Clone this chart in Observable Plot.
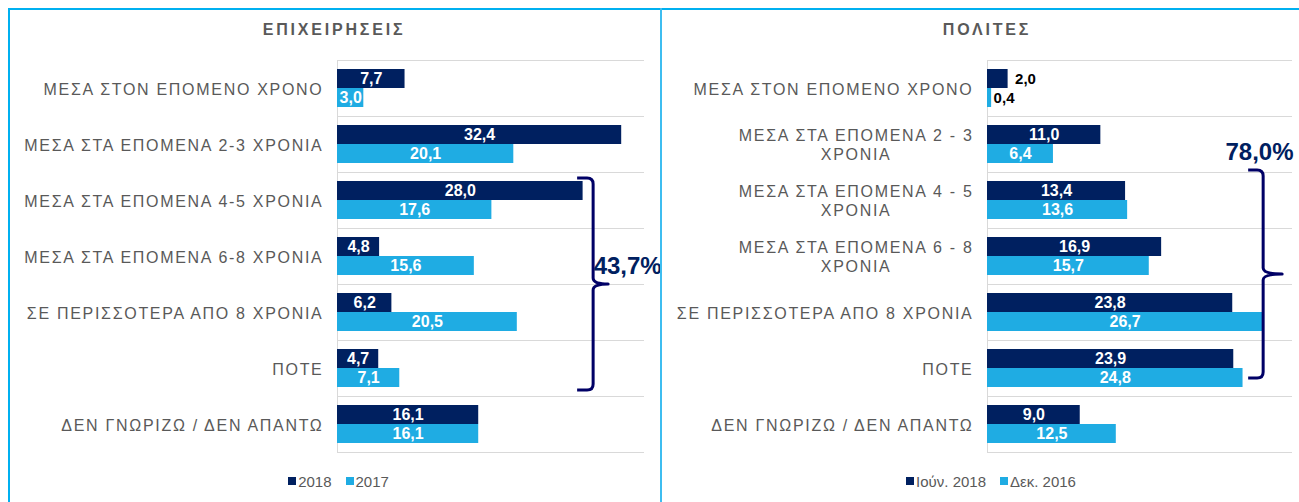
<!DOCTYPE html>
<html>
<head>
<meta charset="utf-8">
<script src="https://cdn.jsdelivr.net/npm/d3@7"></script>
<script src="https://cdn.jsdelivr.net/npm/@observablehq/plot@0.6"></script>
<style>
  html, body { margin: 0; padding: 0; background: #fff; }
  #root { position: relative; width: 1299px; height: 502px; overflow: hidden; background: #fff; font-family: "Liberation Sans", Arial, sans-serif; }
  .panel { position: absolute; top: 0; height: 460px; }
  .title { position: absolute; top: 20px; height: 20px; line-height: 20px; text-align: center; font-weight: bold; font-size: 16px; letter-spacing: 2.8px; color: #595959; }
  .legend { position: absolute; top: 471px; height: 20px; display: flex; justify-content: center; align-items: center; font-size: 15px; color: #595959; }
  .legend .item { display: flex; align-items: center; margin: 0 7px; }
  .legend .sw { width: 8px; height: 8px; margin-right: 2px; }
  .line { position: absolute; background: #00B0F0; z-index: 5; }
</style>
</head>
<body>
<div id="root">
  <div id="left" class="panel" style="left:0;width:660px"></div>
  <div id="right" class="panel" style="left:650px;width:649px"></div>
  <div id="titleL" class="title" style="left:0;width:668px"></div>
  <div id="titleR" class="title" style="left:661px;width:652px"></div>
  <div id="legendL" class="legend" style="left:0;width:677px"></div>
  <div id="legendR" class="legend" style="left:661px;width:660px"></div>
  <div class="line" style="left:8px;top:8px;width:1291px;height:2px"></div>
  <div class="line" style="left:8px;top:8px;width:2px;height:494px"></div>
  <div class="line" style="left:660px;top:8px;width:2px;height:494px;background:#3DBDF0"></div>
</div>
<script>
// ---------- DATA ----------
const titleBusiness = "ΕΠΙΧΕΙΡΗΣΕΙΣ";
const titleCitizens = "ΠΟΛΙΤΕΣ";

const categoriesBusiness = [
  "ΜΕΣΑ ΣΤΟΝ ΕΠΟΜΕΝΟ ΧΡΟΝΟ",
  "ΜΕΣΑ ΣΤΑ ΕΠΟΜΕΝΑ 2-3 ΧΡΟΝΙΑ",
  "ΜΕΣΑ ΣΤΑ ΕΠΟΜΕΝΑ 4-5 ΧΡΟΝΙΑ",
  "ΜΕΣΑ ΣΤΑ ΕΠΟΜΕΝΑ 6-8 ΧΡΟΝΙΑ",
  "ΣΕ ΠΕΡΙΣΣΟΤΕΡΑ ΑΠΟ 8 ΧΡΟΝΙΑ",
  "ΠΟΤΕ",
  "ΔΕΝ ΓΝΩΡΙΖΩ / ΔΕΝ ΑΠΑΝΤΩ"
];
const seriesBusiness = ["2018", "2017"];
const business2018 = [7.7, 32.4, 28.0, 4.8, 6.2, 4.7, 16.1];
const business2017 = [3.0, 20.1, 17.6, 15.6, 20.5, 7.1, 16.1];

const categoriesCitizens = [
  "ΜΕΣΑ ΣΤΟΝ ΕΠΟΜΕΝΟ ΧΡΟΝΟ",
  "ΜΕΣΑ ΣΤΑ ΕΠΟΜΕΝΑ 2 - 3\nΧΡΟΝΙΑ",
  "ΜΕΣΑ ΣΤΑ ΕΠΟΜΕΝΑ 4 - 5\nΧΡΟΝΙΑ",
  "ΜΕΣΑ ΣΤΑ ΕΠΟΜΕΝΑ 6 - 8\nΧΡΟΝΙΑ",
  "ΣΕ ΠΕΡΙΣΣΟΤΕΡΑ ΑΠΟ 8 ΧΡΟΝΙΑ",
  "ΠΟΤΕ",
  "ΔΕΝ ΓΝΩΡΙΖΩ / ΔΕΝ ΑΠΑΝΤΩ"
];
const seriesCitizens = ["Ιούν. 2018", "Δεκ. 2016"];
const citizens2018 = [2.0, 11.0, 13.4, 16.9, 23.8, 23.9, 9.0];
const citizens2016 = [0.4, 6.4, 13.6, 15.7, 26.7, 24.8, 12.5];

const bracketBusiness = { label: "43,7%", from: 2, to: 5 };
const bracketCitizens = { label: "78,0%", from: 2, to: 5 };

// ---------- STYLE ----------
const FONT = '"Liberation Sans", Arial, sans-serif';
const DARK = "#002060";
const LIGHT = "#1FACE3";
const GRID = "#D9D9D9";
const BRACE = "#000066";
const LABEL = "#595959";
const STEP = 56;

const fmt = v => v.toFixed(1).replace(".", ",");

function bracketMark(cats, b, a) {
  return function (index, scales) {
    const x = scales.x, y = scales.y;
    const bw = y.bandwidth ? y.bandwidth() : STEP;
    const top = y(cats[b.from]) + a.topOff;
    const bottom = y(cats[b.to]) + bw + a.botOff;
    const mid = (top + bottom) / 2;
    const X = x(a.x);
    const r = 6;
    const d = `M${X - a.hook},${top} L${X - r},${top} Q${X},${top} ${X},${top + r} L${X},${mid - r} Q${X},${mid} ${X + a.tip},${mid} Q${X},${mid} ${X},${mid + r} L${X},${bottom - r} Q${X},${bottom} ${X - r},${bottom} L${X - a.hook},${bottom}`;
    return d3.create("svg:path")
      .attr("d", d).attr("fill", "none").attr("stroke", BRACE)
      .attr("stroke-width", 3).attr("stroke-linejoin", "round").node();
  };
}

function panel(cats, v1, v2, opt) {
  const rows = cats.map((c, i) => ({ cat: c, a: v1[i], b: v2[i] }));
  const inside = v => v >= 2.5;
  const lbl = { fontSize: 16, fontWeight: "bold" };
  return Plot.plot({
    width: opt.width,
    height: 460,
    marginLeft: 337,
    marginRight: opt.marginRight,
    marginTop: 60,
    marginBottom: 8,
    x: { domain: [0, opt.xMax], axis: null },
    y: { domain: cats, axis: null, padding: 0 },
    style: { background: "transparent", fontFamily: FONT, overflow: "visible" },
    marks: [
      Plot.ruleY(cats, { y: d => d, dy: -STEP / 2, stroke: GRID }),
      Plot.ruleY([cats[cats.length - 1]], { y: d => d, dy: STEP / 2, stroke: GRID }),
      Plot.ruleX([0], { stroke: GRID }),
      Plot.barX(rows, { x: "a", y: "cat", fill: DARK, insetTop: 9, insetBottom: 28 }),
      Plot.barX(rows, { x: "b", y: "cat", fill: LIGHT, insetTop: 28, insetBottom: 9 }),
      Plot.text(rows.filter(d => inside(d.a)), { x: d => d.a / 2, y: "cat", dy: -9.5, text: d => fmt(d.a), fill: "white", ...lbl }),
      Plot.text(rows.filter(d => inside(d.b)), { x: d => d.b / 2, y: "cat", dy: 9.5, text: d => fmt(d.b), fill: "white", ...lbl }),
      Plot.text(rows.filter(d => !inside(d.a)), { x: "a", y: "cat", dy: -9.5, dx: 7, textAnchor: "start", text: d => fmt(d.a), fill: "black", ...lbl, fontSize: 15 }),
      Plot.text(rows.filter(d => !inside(d.b)), { x: "b", y: "cat", dy: 9.5, dx: 2, textAnchor: "start", text: d => fmt(d.b), fill: "black", ...lbl, fontSize: 15 }),
      Plot.text(cats, { y: d => d, text: d => d, frameAnchor: "left", textAnchor: "end", dx: -14, fill: LABEL, fontSize: 16, lineHeight: 1.2 }),
      bracketMark(cats, opt.bracket, opt.brAnn),
      Plot.text([opt.bracket], { x: () => opt.pctAnn.x, y: () => cats[opt.pctAnn.cat], dy: opt.pctAnn.dy, text: d => d.label, textAnchor: opt.pctAnn.anchor, fill: DARK, fontSize: 24, fontWeight: "bold" })
    ]
  });
}

function styleCategoryLabels(svg, cats) {
  const keys = new Set(cats.map(c => c.replace(/\n/g, "")));
  svg.querySelectorAll("text").forEach(t => {
    if (!keys.has(t.textContent.replace(/\n/g, ""))) return;
    t.style.letterSpacing = "1.7px";
    const spans = t.querySelectorAll("tspan");
    if (spans.length > 1) {
      const w = t.getBBox().width;
      t.setAttribute("text-anchor", "middle");
      t.style.textAnchor = "middle";
      spans.forEach(s => s.setAttribute("x", -w / 2));
    }
  });
}

const left = panel(categoriesBusiness, business2018, business2017, {
  width: 660, marginRight: 16, xMax: 35,
  bracket: bracketBusiness,
  brAnn: { x: 29.2, hook: 16, tip: 15, topOff: 6, botOff: -6 },
  pctAnn: { x: 29.2, cat: 3, dy: 10, anchor: "start" }
});
const right = panel(categoriesCitizens, citizens2018, citizens2016, {
  width: 649, marginRight: 7, xMax: 29.6,
  bracket: bracketCitizens,
  brAnn: { x: 26.8, hook: 15, tip: 19, topOff: -2, botOff: -18 },
  pctAnn: { x: 29.7, cat: 1, dy: 8, anchor: "end" }
});
document.getElementById("left").appendChild(left);
document.getElementById("right").appendChild(right);
styleCategoryLabels(left, categoriesBusiness);
styleCategoryLabels(right, categoriesCitizens);

document.getElementById("titleL").textContent = titleBusiness;
document.getElementById("titleR").textContent = titleCitizens;

function legend(el, names) {
  const colors = [DARK, LIGHT];
  names.forEach((n, i) => {
    const it = document.createElement("div");
    it.className = "item";
    const sw = document.createElement("div");
    sw.className = "sw";
    sw.style.background = colors[i];
    const tx = document.createElement("span");
    tx.textContent = n;
    it.appendChild(sw); it.appendChild(tx);
    el.appendChild(it);
  });
}
legend(document.getElementById("legendL"), seriesBusiness);
legend(document.getElementById("legendR"), seriesCitizens);
</script>
</body>
</html>
